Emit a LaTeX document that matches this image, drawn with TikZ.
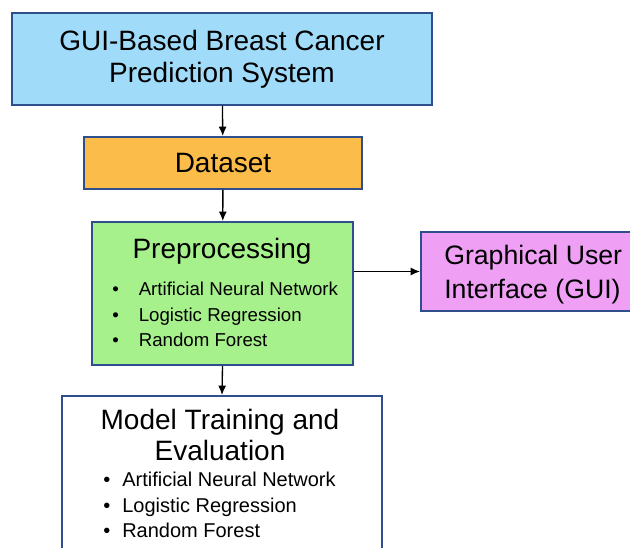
\documentclass[tikz,border=0pt]{standalone}
\usepackage{fontspec}
\setmainfont{Liberation Sans}
\usetikzlibrary{arrows.meta}

\definecolor{boxline}{RGB}{46,78,140}
\definecolor{sysblue}{RGB}{160,220,250}
\definecolor{dataorange}{RGB}{251,188,74}
\definecolor{prepgreen}{RGB}{166,241,139}
\definecolor{guiviolet}{RGB}{239,160,245}

\begin{document}
\begin{tikzpicture}[x=0.75pt,y=-0.75pt]
         \tikzset{stage/.style={draw=boxline,line width=1.5pt,inner sep=0pt,font=\fontsize{21}{24}\selectfont,align=center}}
         \tikzset{title/.style={font=\fontsize{21}{24}\selectfont,align=center,inner sep=0pt,anchor=base}}
         \tikzset{item/.style={inner sep=0pt,anchor=base west}}
         \tikzset{flow/.style={-{Latex[length=7pt,width=6pt]},line width=1pt}}
         \useasboundingbox (0,0) rectangle (630,548);
         \clip (0,0) rectangle (630,548);
         \node[stage,fill=sysblue,minimum width=420*0.75pt,minimum height=92*0.75pt] (sys) at (222,59)
           {GUI-Based Breast Cancer\\Prediction System};
         \node[stage,fill=dataorange,minimum width=278*0.75pt,minimum height=52*0.75pt] (data) at (223,163) {Dataset};
         \node[stage,fill=prepgreen,minimum width=261*0.75pt,minimum height=143*0.75pt] (prep) at (222.5,293.5) {};
         \node[stage,fill=guiviolet,minimum width=225*0.75pt,minimum height=79*0.75pt,anchor=west] (gui) at (420,271.5)
           {};
         \node[title,anchor=base west,font=\fontsize{20}{24}\selectfont] (guitxt1) at (444,265) {Graphical User};
         \node[title,anchor=base west,font=\fontsize{20}{24}\selectfont] (guitxt2) at (444,298) {Interface (GUI)};
         \node[stage,fill=white,minimum width=320*0.75pt,minimum height=175*0.75pt,anchor=north] (model) at (222,395) {};
         \node[title] (preptitle) at (222,259) {Preprocessing};
         \node[title] (modeltitle1) at (220,429) {Model Training and};
         \node[title] (modeltitle2) at (220,460) {Evaluation};
         \foreach \t [count=\i] in {Artificial Neural Network,Logistic Regression,Random Forest} {
           \node[item,font=\fontsize{14}{16}\selectfont] (prepitem\i) at (112,{270+25.5*\i}) {\textbullet\hspace{15pt}\t};
           \node[item,font=\fontsize{15}{17}\selectfont] (modelitem\i) at (103,{461+25.5*\i}) {\textbullet\hspace{9pt}\t};
         }
         \draw[flow] (sys) -- (data);
         \draw[flow] (data) -- (prep);
         \draw[flow] (prep.south) -- (model.north);
         \draw[flow] (prep.east |- gui.west) -- (gui.west);
      \end{tikzpicture}
\end{document}
